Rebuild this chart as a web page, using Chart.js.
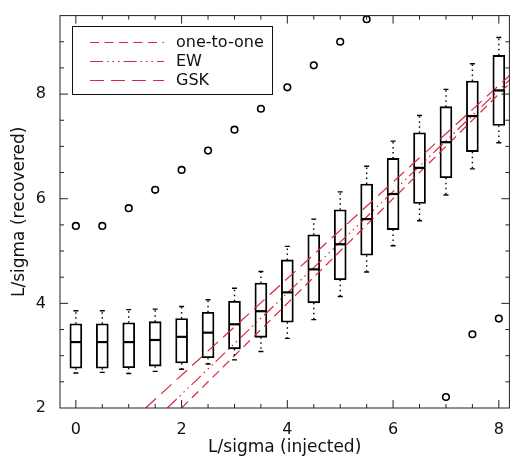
<!DOCTYPE html>
<html>
<head>
<meta charset="utf-8">
<script src="https://cdn.jsdelivr.net/npm/chart.js@4"></script>
<style>
  html, body { margin: 0; padding: 0; background: #fff; }
</style>
</head>
<body>
<canvas id="chart" width="515" height="459"></canvas>
<script>
// box positions (injected L/sigma) and the five numbers of each box
const boxX   = [0, 0.5, 1, 1.5, 2, 2.5, 3, 3.5, 4, 4.5, 5, 5.5, 6, 6.5, 7, 7.5, 8];
const whisLo = [2.67, 2.68, 2.66, 2.70, 2.74, 2.84, 2.92, 3.08, 3.33, 3.69, 4.13, 4.60, 5.10, 5.58, 6.07, 6.57, 7.07];
const q1     = [2.76, 2.76, 2.77, 2.80, 2.86, 2.96, 3.13, 3.35, 3.64, 4.01, 4.45, 4.92, 5.41, 5.91, 6.40, 6.90, 7.40];
const median = [3.26, 3.26, 3.26, 3.30, 3.36, 3.44, 3.60, 3.85, 4.21, 4.65, 5.13, 5.61, 6.09, 6.59, 7.08, 7.58, 8.07];
const q3     = [3.61, 3.61, 3.63, 3.65, 3.71, 3.83, 4.04, 4.39, 4.83, 5.31, 5.79, 6.28, 6.77, 7.26, 7.76, 8.25, 8.74];
const whisHi = [3.86, 3.86, 3.88, 3.89, 3.94, 4.07, 4.29, 4.61, 5.09, 5.61, 6.13, 6.62, 7.10, 7.59, 8.09, 8.58, 9.08];

// outliers
const outX = [0, 0.5, 1, 1.5, 2, 2.5, 3, 3.5, 4, 4.5, 5, 5.5, 7, 7.5, 8];
const outY = [5.48, 5.48, 5.82, 6.17, 6.55, 6.92, 7.32, 7.72, 8.13, 8.55, 9.00, 9.43, 2.21, 3.41, 3.71];

// reference lines
const oneX = [2, 8.2],    oneY = [2, 8.2];
const ewX  = [1.73, 8.2], ewY  = [2, 8.27];
const gskX = [1.32, 8.2], gskY = [2, 8.35];

const RED = '#d8283f';
const FONT = 'DejaVu Sans';
const dashOne = [9, 5.5];
const dashEW = [13, 4, 1.5, 4, 1.5, 4, 1.5, 4];
const dashGSK = [14, 7];

const pts = (xs, ys) => xs.map((x, i) => ({ x: x, y: ys[i] }));

const boxPlugin = {
    id: 'boxes',
    afterDatasetsDraw(chart) {
        const c = chart.ctx, xs = chart.scales.x, ys = chart.scales.y;
        c.save();
        c.strokeStyle = '#000';
        boxX.forEach((v, i) => {
            const px = xs.getPixelForValue(v);
            // whiskers
            c.lineWidth = 1.4;
            c.setLineDash([1.5, 3.5]);
            c.beginPath();
            c.moveTo(px, ys.getPixelForValue(q3[i]));
            c.lineTo(px, ys.getPixelForValue(whisHi[i]));
            c.moveTo(px, ys.getPixelForValue(q1[i]));
            c.lineTo(px, ys.getPixelForValue(whisLo[i]));
            c.stroke();
            c.setLineDash([]);
            c.beginPath();
            c.moveTo(px - 2.5, ys.getPixelForValue(whisHi[i]));
            c.lineTo(px + 2.5, ys.getPixelForValue(whisHi[i]));
            c.moveTo(px - 2.5, ys.getPixelForValue(whisLo[i]));
            c.lineTo(px + 2.5, ys.getPixelForValue(whisLo[i]));
            c.stroke();
            // median
            c.lineWidth = 2.2;
            c.beginPath();
            c.moveTo(px - 5.5, ys.getPixelForValue(median[i]));
            c.lineTo(px + 5.5, ys.getPixelForValue(median[i]));
            c.stroke();
        });
        c.restore();
    },
    afterDraw(chart) {
        const c = chart.ctx, a = chart.chartArea, xs = chart.scales.x, ys = chart.scales.y;
        c.save();
        // frame
        c.strokeStyle = '#222';
        c.lineWidth = 1;
        c.strokeRect(a.left, a.top, a.right - a.left, a.bottom - a.top);
        // inward ticks, major every 2, minor every 0.5
        c.beginPath();
        for (let v = 0; v <= 8; v += 0.5) {
            const p = xs.getPixelForValue(v);
            const len = v % 2 === 0 ? 8 : 4;
            c.moveTo(p, a.bottom); c.lineTo(p, a.bottom - len);
            c.moveTo(p, a.top); c.lineTo(p, a.top + len);
        }
        for (let v = 2.5; v < 9.5; v += 0.5) {
            const p = ys.getPixelForValue(v);
            const len = v % 2 === 0 ? 8 : 4;
            c.moveTo(a.left, p); c.lineTo(a.left + len, p);
            c.moveTo(a.right, p); c.lineTo(a.right - len, p);
        }
        c.stroke();

        // legend
        c.strokeStyle = '#111';
        c.strokeRect(72.5, 26.5, 200, 68);
        const rows = [['one-to-one', dashOne, 42], ['EW', dashEW, 61], ['GSK', dashGSK, 80]];
        c.font = '16px "' + FONT + '"';
        c.textBaseline = 'middle';
        c.fillStyle = '#111';
        rows.forEach(r => {
            c.strokeStyle = RED;
            c.lineWidth = 1.2;
            c.setLineDash(r[1]);
            c.beginPath();
            c.moveTo(90, r[2] + 0.5);
            c.lineTo(164, r[2] + 0.5);
            c.stroke();
            c.setLineDash([]);
            c.fillText(r[0], 176, r[2] + 1);
        });
        c.restore();
    }
};

new Chart(document.getElementById('chart'), {
    data: {
        datasets: [
            {
                type: 'line', data: pts(oneX, oneY), borderColor: RED, borderWidth: 1.2,
                borderDash: dashOne, pointRadius: 0, fill: false
            },
            {
                type: 'line', data: pts(ewX, ewY), borderColor: RED, borderWidth: 1.2,
                borderDash: dashEW, pointRadius: 0, fill: false
            },
            {
                type: 'line', data: pts(gskX, gskY), borderColor: RED, borderWidth: 1.2,
                borderDash: dashGSK, pointRadius: 0, fill: false
            },
            {
                type: 'bar',
                data: boxX.map((x, i) => ({ x: x, y: [q1[i], q3[i]] })),
                backgroundColor: 'rgba(0,0,0,0)',
                borderColor: '#000',
                borderWidth: 1.2,
                borderSkipped: false,
                barThickness: 12
            },
            {
                type: 'scatter', data: pts(outX, outY),
                pointStyle: 'circle', pointRadius: 3.3, borderWidth: 1.6,
                borderColor: '#000', backgroundColor: 'rgba(0,0,0,0)'
            }
        ]
    },
    options: {
        responsive: false,
        devicePixelRatio: 1,
        animation: false,
        layout: { padding: { top: 7, right: 1, left: 0, bottom: 0 } },
        plugins: { legend: { display: false }, tooltip: { enabled: false } },
        scales: {
            x: {
                type: 'linear', min: -0.3, max: 8.2, offset: false,
                grid: { display: false, offset: false }, border: { display: false },
                ticks: { stepSize: 2, includeBounds: false, padding: 4, color: '#111',
                         font: { family: FONT, size: 16 } },
                title: { display: true, text: 'L/sigma (injected)', color: '#111',
                         font: { family: FONT, size: 17 }, padding: { top: 0, bottom: 1 } },
                afterFit(s) { s.height = 51; }
            },
            y: {
                type: 'linear', min: 2, max: 9.5,
                grid: { display: false }, border: { display: false },
                ticks: { stepSize: 2, includeBounds: false, padding: 6, color: '#111',
                         font: { family: FONT, size: 16 } },
                title: { display: true, text: 'L/sigma (recovered)', color: '#111',
                         font: { family: FONT, size: 17 }, padding: { top: 9, bottom: 0 } },
                afterFit(s) { s.width = 60; }
            }
        }
    },
    plugins: [boxPlugin]
});
</script>
</body>
</html>
